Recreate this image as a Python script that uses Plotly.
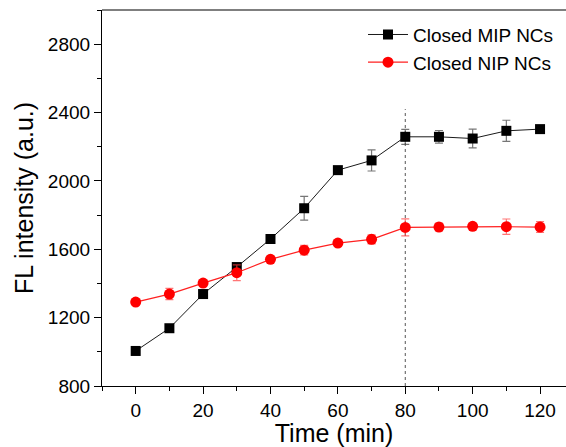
import plotly.graph_objects as go

time_min = [0, 10, 20, 30, 40, 50, 60, 70, 80, 90, 100, 110, 120]
mip_values = [1005, 1138, 1338, 1496, 1660, 1840, 2063, 2120, 2258, 2258, 2248, 2293, 2303]
mip_errors = [22, 8, 5, 20, 23, 70, 5, 62, 44, 37, 55, 62, 5]
nip_values = [1291, 1338, 1402, 1463, 1541, 1595, 1636, 1658, 1728, 1730, 1734, 1732, 1730]
nip_errors = [12, 33, 12, 46, 8, 28, 6, 27, 50, 23, 15, 45, 32]
mip_name = "Closed MIP NCs"
nip_name = "Closed NIP NCs"
marker_time = 80
marker_top = 2420

FONT = "Arial, Liberation Sans, sans-serif"

fig = go.Figure()
fig.add_trace(go.Scatter(
    x=time_min, y=mip_values, name=mip_name, mode="lines+markers",
    line=dict(color="#1a1a1a", width=1),
    marker=dict(symbol="square", size=10, color="black"),
    error_y=dict(type="data", array=mip_errors, color="rgba(60,60,60,0.7)", thickness=1.2, width=4),
))
fig.add_trace(go.Scatter(
    x=time_min, y=nip_values, name=nip_name, mode="lines+markers",
    line=dict(color="#ff2020", width=1.2),
    marker=dict(symbol="circle", size=11, color="#ff0000"),
    error_y=dict(type="data", array=nip_errors, color="rgba(255,60,60,0.7)", thickness=1.2, width=4),
))

fig.add_shape(type="line", xref="x", yref="y", x0=marker_time, x1=marker_time, y0=800, y1=marker_top,
              line=dict(color="#555555", width=1, dash="dot"), layer="below")
fig.add_shape(type="line", xref="paper", yref="paper", x0=0, x1=1, y0=1, y1=1,
              line=dict(color="black", width=1.2))

fig.update_layout(
    width=566, height=447,
    margin=dict(l=102, r=0, t=10, b=61),
    paper_bgcolor="white", plot_bgcolor="white",
    font=dict(family=FONT, color="black"),
    showlegend=True,
    legend=dict(x=0.5625, y=0.985, xanchor="left", yanchor="top",
                font=dict(size=19, family=FONT), bgcolor="rgba(0,0,0,0)",
                tracegroupgap=0, itemwidth=40),
    xaxis=dict(
        range=[-10, 127.7], tickmode="linear", tick0=0, dtick=20,
        ticks="outside", ticklen=7, tickwidth=1, tickcolor="black",
        minor=dict(dtick=10, tick0=0, ticks="outside", ticklen=4, tickcolor="black"),
        showline=True, linecolor="black", linewidth=1.2, showgrid=False, zeroline=False,
        tickfont=dict(size=19, family=FONT),
        title=dict(text="Time (min)", font=dict(size=25, family=FONT), standoff=1),
    ),
    yaxis=dict(
        range=[800, 3000], tickmode="linear", tick0=800, dtick=400,
        ticks="outside", ticklen=7, tickwidth=1, tickcolor="black",
        minor=dict(dtick=200, tick0=800, ticks="outside", ticklen=4, tickcolor="black"),
        showline=True, linecolor="black", linewidth=1.2, showgrid=False, zeroline=False,
        tickfont=dict(size=19, family=FONT),
        title=dict(text="FL intensity (a.u.)", font=dict(size=25, family=FONT), standoff=7),
    ),
)

fig.write_html("out.html")
